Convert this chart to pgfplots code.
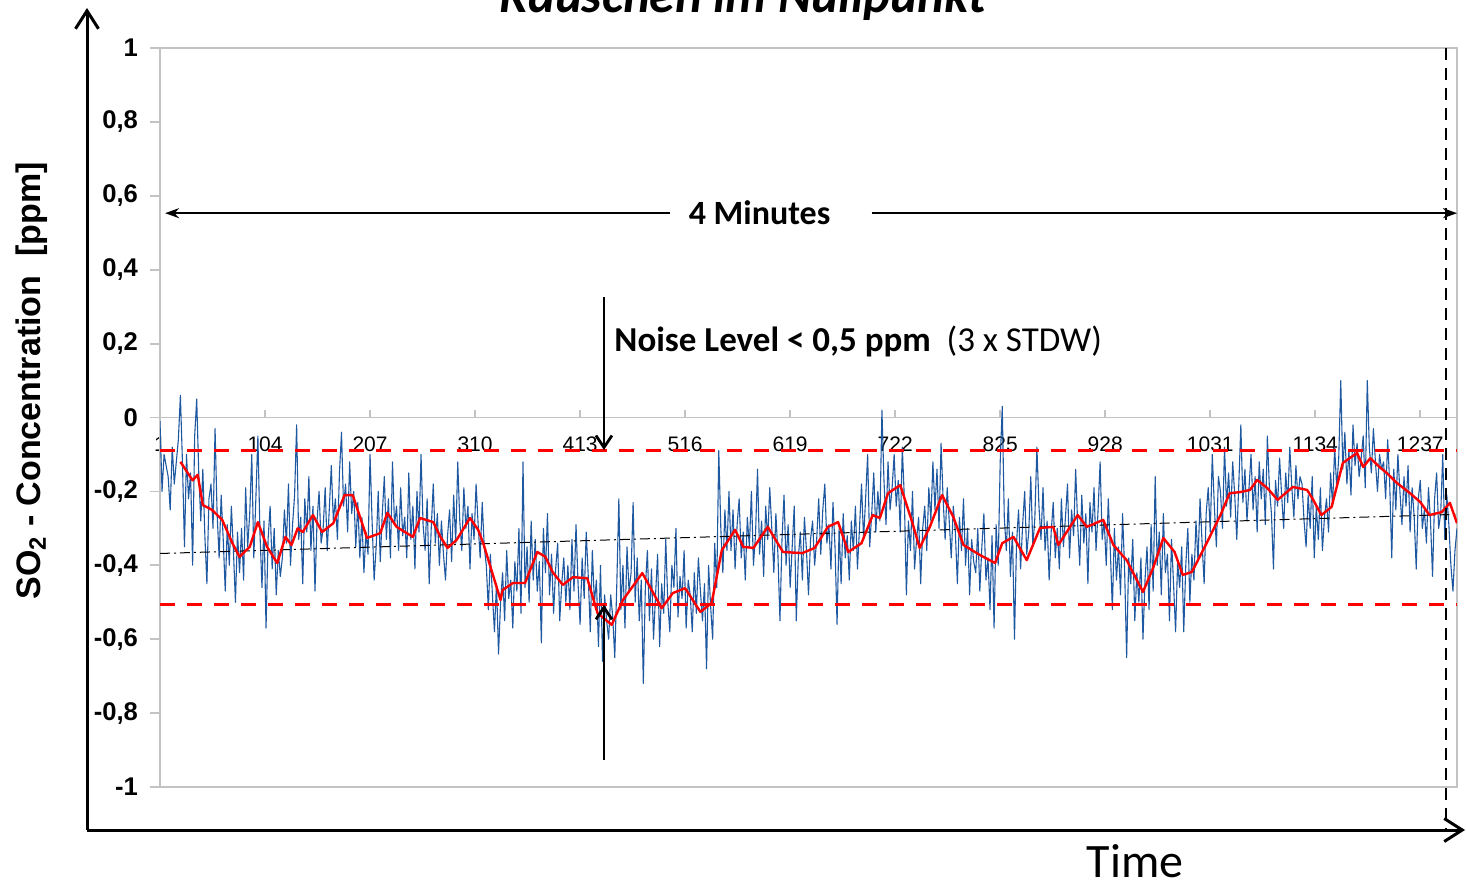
\documentclass[border=0pt]{standalone}
\usepackage{fontspec}
\setmainfont{Liberation Sans}
\newfontfamily\calibri{Carlito}
\usepackage{pgfplots}
\usepackage{pgfplotstable}
\pgfplotsset{compat=1.18}
\usetikzlibrary{arrows.meta}

\definecolor{signalblue}{RGB}{30,88,160}
\definecolor{framegray}{RGB}{195,195,195}

% raw SO2 zero signal, every second sample (x = 1, 3, 5, ..., 1273)
\pgfplotstableread[row sep=\\]{
y\\
-0.01\\ -0.20\\ -0.10\\ -0.13\\ -0.16\\ -0.25\\ -0.08\\ -0.18\\ -0.12\\ -0.06\\ 0.06\\ -0.12\\ -0.35\\ -0.10\\ -0.22\\ -0.15\\ -0.40\\ -0.05\\ 0.05\\ -0.15\\
-0.28\\ -0.14\\ -0.32\\ -0.45\\ -0.22\\ -0.18\\ -0.30\\ -0.03\\ -0.26\\ -0.38\\ -0.21\\ -0.33\\ -0.47\\ -0.29\\ -0.40\\ -0.24\\ -0.36\\ -0.50\\ -0.31\\ -0.42\\
-0.30\\ -0.44\\ -0.19\\ -0.35\\ -0.26\\ -0.10\\ -0.38\\ -0.22\\ -0.05\\ -0.31\\ -0.46\\ -0.28\\ -0.57\\ -0.33\\ -0.24\\ -0.41\\ -0.30\\ -0.48\\ -0.36\\ -0.43\\
-0.38\\ -0.25\\ -0.34\\ -0.18\\ -0.40\\ -0.29\\ -0.21\\ -0.02\\ -0.33\\ -0.27\\ -0.45\\ -0.22\\ -0.31\\ -0.16\\ -0.36\\ -0.24\\ -0.47\\ -0.28\\ -0.20\\ -0.34\\
-0.30\\ -0.19\\ -0.36\\ -0.25\\ -0.13\\ -0.28\\ -0.22\\ -0.33\\ -0.15\\ -0.04\\ -0.24\\ -0.18\\ -0.31\\ -0.12\\ -0.26\\ -0.20\\ -0.35\\ -0.23\\ -0.38\\ -0.27\\
-0.42\\ -0.31\\ -0.37\\ -0.10\\ -0.28\\ -0.44\\ -0.35\\ -0.20\\ -0.39\\ -0.26\\ -0.16\\ -0.33\\ -0.22\\ -0.38\\ -0.12\\ -0.29\\ -0.24\\ -0.36\\ -0.19\\ -0.32\\
-0.27\\ -0.38\\ -0.15\\ -0.33\\ -0.24\\ -0.41\\ -0.20\\ -0.31\\ -0.10\\ -0.29\\ -0.36\\ -0.22\\ -0.45\\ -0.30\\ -0.18\\ -0.34\\ -0.26\\ -0.40\\ -0.28\\ -0.37\\
-0.44\\ -0.32\\ -0.25\\ -0.39\\ -0.21\\ -0.34\\ -0.12\\ -0.28\\ -0.36\\ -0.19\\ -0.30\\ -0.24\\ -0.41\\ -0.26\\ -0.33\\ -0.18\\ -0.29\\ -0.38\\ -0.23\\ -0.35\\
-0.40\\ -0.52\\ -0.37\\ -0.48\\ -0.58\\ -0.45\\ -0.64\\ -0.50\\ -0.42\\ -0.55\\ -0.36\\ -0.49\\ -0.44\\ -0.57\\ -0.39\\ -0.47\\ -0.30\\ -0.53\\ -0.12\\ -0.46\\
-0.35\\ -0.50\\ -0.28\\ -0.44\\ -0.33\\ -0.47\\ -0.39\\ -0.61\\ -0.30\\ -0.42\\ -0.26\\ -0.48\\ -0.37\\ -0.53\\ -0.41\\ -0.34\\ -0.55\\ -0.45\\ -0.38\\ -0.50\\
-0.40\\ -0.52\\ -0.33\\ -0.47\\ -0.29\\ -0.45\\ -0.56\\ -0.38\\ -0.49\\ -0.31\\ -0.43\\ -0.58\\ -0.36\\ -0.50\\ -0.44\\ -0.62\\ -0.40\\ -0.66\\ -0.48\\ -0.55\\
-0.60\\ -0.48\\ -0.54\\ -0.65\\ -0.45\\ -0.22\\ -0.52\\ -0.40\\ -0.57\\ -0.35\\ -0.47\\ -0.42\\ -0.23\\ -0.50\\ -0.38\\ -0.55\\ -0.44\\ -0.72\\ -0.46\\ -0.36\\
-0.55\\ -0.41\\ -0.60\\ -0.48\\ -0.37\\ -0.62\\ -0.45\\ -0.53\\ -0.33\\ -0.50\\ -0.58\\ -0.40\\ -0.46\\ -0.30\\ -0.54\\ -0.43\\ -0.49\\ -0.36\\ -0.57\\ -0.44\\
-0.48\\ -0.58\\ -0.42\\ -0.53\\ -0.38\\ -0.47\\ -0.55\\ -0.45\\ -0.68\\ -0.40\\ -0.51\\ -0.60\\ -0.34\\ -0.46\\ -0.09\\ -0.30\\ -0.42\\ -0.25\\ -0.36\\ -0.20\\
-0.36\\ -0.25\\ -0.41\\ -0.29\\ -0.22\\ -0.38\\ -0.31\\ -0.44\\ -0.27\\ -0.35\\ -0.20\\ -0.40\\ -0.32\\ -0.14\\ -0.37\\ -0.28\\ -0.43\\ -0.24\\ -0.33\\ -0.19\\
-0.30\\ -0.42\\ -0.26\\ -0.37\\ -0.55\\ -0.33\\ -0.21\\ -0.40\\ -0.29\\ -0.46\\ -0.35\\ -0.24\\ -0.55\\ -0.38\\ -0.31\\ -0.44\\ -0.27\\ -0.36\\ -0.48\\ -0.33\\
-0.28\\ -0.40\\ -0.33\\ -0.22\\ -0.37\\ -0.25\\ -0.18\\ -0.34\\ -0.29\\ -0.41\\ -0.23\\ -0.35\\ -0.56\\ -0.30\\ -0.45\\ -0.26\\ -0.38\\ -0.32\\ -0.44\\ -0.28\\
-0.36\\ -0.24\\ -0.41\\ -0.30\\ -0.18\\ -0.33\\ -0.22\\ -0.10\\ -0.35\\ -0.26\\ -0.15\\ -0.31\\ -0.20\\ -0.28\\ 0.02\\ -0.17\\ -0.29\\ -0.12\\ -0.25\\ -0.19\\
-0.10\\ -0.24\\ -0.17\\ -0.31\\ -0.08\\ -0.22\\ -0.48\\ -0.28\\ -0.36\\ -0.20\\ -0.41\\ -0.33\\ -0.27\\ -0.45\\ -0.30\\ -0.24\\ -0.36\\ -0.19\\ -0.28\\ -0.12\\
-0.25\\ -0.14\\ -0.30\\ -0.07\\ -0.22\\ -0.33\\ -0.19\\ -0.28\\ -0.38\\ -0.24\\ -0.31\\ -0.45\\ -0.27\\ -0.36\\ -0.22\\ -0.40\\ -0.30\\ -0.48\\ -0.33\\ -0.39\\
-0.42\\ -0.30\\ -0.47\\ -0.35\\ -0.26\\ -0.44\\ -0.38\\ -0.52\\ -0.32\\ -0.57\\ -0.29\\ -0.40\\ -0.12\\ 0.03\\ -0.27\\ -0.36\\ -0.22\\ -0.43\\ -0.31\\ -0.60\\
-0.34\\ -0.25\\ -0.41\\ -0.29\\ -0.20\\ -0.37\\ -0.31\\ -0.16\\ -0.35\\ -0.27\\ -0.08\\ -0.24\\ -0.33\\ -0.19\\ -0.36\\ -0.28\\ -0.44\\ -0.31\\ -0.23\\ -0.38\\
-0.30\\ -0.41\\ -0.22\\ -0.35\\ -0.27\\ -0.18\\ -0.38\\ -0.25\\ -0.32\\ -0.14\\ -0.29\\ -0.40\\ -0.21\\ -0.34\\ -0.26\\ -0.45\\ -0.23\\ -0.31\\ -0.19\\ -0.36\\
-0.25\\ -0.12\\ -0.33\\ -0.28\\ -0.40\\ -0.22\\ -0.36\\ -0.52\\ -0.30\\ -0.44\\ -0.35\\ -0.48\\ -0.26\\ -0.41\\ -0.65\\ -0.38\\ -0.45\\ -0.33\\ -0.55\\ -0.42\\
-0.50\\ -0.38\\ -0.60\\ -0.44\\ -0.35\\ -0.52\\ -0.29\\ -0.47\\ -0.16\\ -0.40\\ -0.31\\ -0.48\\ -0.26\\ -0.42\\ -0.37\\ -0.55\\ -0.33\\ -0.45\\ -0.58\\ -0.39\\
-0.46\\ -0.35\\ -0.58\\ -0.40\\ -0.30\\ -0.50\\ -0.37\\ -0.44\\ -0.28\\ -0.39\\ -0.22\\ -0.34\\ -0.45\\ -0.26\\ -0.19\\ -0.31\\ -0.10\\ -0.24\\ -0.35\\ -0.16\\
-0.20\\ -0.30\\ -0.08\\ -0.24\\ -0.15\\ -0.27\\ -0.12\\ -0.21\\ -0.33\\ -0.18\\ -0.02\\ -0.23\\ -0.14\\ -0.28\\ -0.19\\ -0.10\\ -0.25\\ -0.16\\ -0.31\\ -0.12\\
-0.22\\ -0.14\\ -0.29\\ -0.05\\ -0.19\\ -0.26\\ -0.41\\ -0.17\\ -0.24\\ -0.11\\ -0.21\\ -0.30\\ -0.15\\ -0.23\\ -0.08\\ -0.19\\ -0.27\\ -0.13\\ -0.22\\ -0.16\\
-0.18\\ -0.28\\ -0.35\\ -0.21\\ -0.30\\ -0.16\\ -0.38\\ -0.24\\ -0.33\\ -0.19\\ -0.36\\ -0.27\\ -0.22\\ -0.31\\ -0.15\\ -0.24\\ -0.08\\ -0.19\\ -0.11\\ 0.10\\
-0.14\\ -0.04\\ -0.18\\ -0.09\\ -0.21\\ -0.02\\ -0.13\\ -0.07\\ -0.16\\ -0.11\\ -0.05\\ -0.19\\ 0.10\\ -0.08\\ -0.15\\ -0.03\\ -0.12\\ -0.20\\ -0.10\\ -0.14\\
-0.12\\ -0.22\\ -0.06\\ -0.18\\ -0.38\\ -0.14\\ -0.25\\ -0.10\\ -0.20\\ -0.29\\ -0.16\\ -0.24\\ -0.13\\ -0.31\\ -0.19\\ -0.27\\ -0.41\\ -0.22\\ -0.17\\ -0.30\\
-0.25\\ -0.34\\ -0.19\\ -0.28\\ -0.43\\ -0.22\\ -0.15\\ -0.30\\ -0.26\\ -0.10\\ -0.33\\ -0.21\\ -0.29\\ -0.40\\ -0.47\\ -0.36\\ -0.30\\
}\noisetable

\begin{document}
\begin{tikzpicture}
\useasboundingbox (0,0) rectangle (733pt,445.5pt);

% zero line with the sample-number ticks
\begin{axis}[
  at={(80pt,52pt)}, anchor=south west,
  scale only axis, width=648.5pt, height=369.5pt,
  xmin=1, xmax=1273, ymin=-1, ymax=1,
  axis x line=middle, axis y line=none,
  x axis line style={-, draw=framegray, line width=0.9pt},
  xtick={1,104,207,310,413,516,619,722,825,928,1031,1134,1237},
  xticklabels={1,104,207,310,413,516,619,722,825,928,1031,1134,1237},
  xtick align=inside,
  major tick length=3.5pt,
  xtick style={draw=framegray, line width=0.9pt},
  xticklabel style={font=\fontsize{10.5}{12}\selectfont, anchor=north, yshift=-6pt},
  ytick=\empty,
]
\end{axis}

% plot area with the signal
\begin{axis}[
  at={(80pt,52pt)}, anchor=south west,
  scale only axis, width=648.5pt, height=369.5pt,
  xmin=1, xmax=1273, ymin=-1, ymax=1,
  axis line style={draw=framegray, line width=0.9pt},
  xtick=\empty,
  ytick={-1,-0.8,-0.6,-0.4,-0.2,0,0.2,0.4,0.6,0.8,1},
  yticklabels={{-1},{-0,8},{-0,6},{-0,4},{-0,2},{0},{0,2},{0,4},{0,6},{0,8},{1}},
  ytick pos=left, tick align=outside, major tick length=5pt,
  ytick style={draw=framegray, line width=0.9pt},
  yticklabel style={font=\bfseries\fontsize{12.8}{14}\selectfont, xshift=-2.5pt},
  clip mode=individual,
]
% raw signal
\addplot[signalblue, line width=0.55pt, line join=round]
  table[x expr=2*\coordindex+1, y=y] {\noisetable};

% linear trend
\addplot[black, line width=0.5pt, dash pattern=on 5pt off 2pt on 1pt off 2pt]
  coordinates {(1,-0.368) (1273,-0.262)};

% moving average
\addplot[red, line width=1.2pt, line join=round] coordinates {
(21,-0.12)(33,-0.17)(38,-0.155)(43,-0.237)(52,-0.25)(62,-0.277)(72,-0.34)(79,-0.377)
(89,-0.35)(97,-0.283)(106,-0.35)(116,-0.394)(124,-0.323)(130,-0.345)(136,-0.30)(141,-0.31)
(151,-0.264)(160,-0.31)(171,-0.286)(182,-0.21)(190,-0.21)(204,-0.326)(217,-0.313)(224,-0.258)
(233,-0.296)(249,-0.323)(256,-0.272)(269,-0.283)(276,-0.323)(283,-0.353)(292,-0.331)(305,-0.272)
(313,-0.304)(318,-0.34)(335,-0.494)(337,-0.467)(347,-0.448)(359,-0.448)(371,-0.364)(379,-0.377)
(386,-0.418)(396,-0.453)(406,-0.432)(420,-0.435)(430,-0.529)(444,-0.561)(455,-0.494)(474,-0.421)
(493,-0.516)(504,-0.475)(516,-0.462)(531,-0.526)(542,-0.502)(552,-0.359)(565,-0.304)(573,-0.35)
(583,-0.353)(597,-0.296)(612,-0.364)(631,-0.367)(643,-0.353)(656,-0.296)(666,-0.283)(676,-0.364)
(689,-0.34)(700,-0.264)(707,-0.272)(715,-0.205)(727,-0.183)(739,-0.286)(746,-0.353)(756,-0.296)
(768,-0.21)(779,-0.269)(789,-0.345)(805,-0.372)(820,-0.394)(827,-0.34)(838,-0.323)(851,-0.386)
(864,-0.299)(877,-0.296)(882,-0.345)(901,-0.264)(910,-0.296)(926,-0.277)(936,-0.345)(949,-0.386)
(965,-0.472)(975,-0.407)(985,-0.326)(996,-0.364)(1004,-0.426)(1013,-0.418)(1028,-0.337)(1041,-0.264)
(1050,-0.205)(1060,-0.202)(1070,-0.196)(1077,-0.169)(1087,-0.191)(1097,-0.223)(1112,-0.188)(1126,-0.196)
(1132,-0.223)(1140,-0.264)(1150,-0.242)(1161,-0.123)(1175,-0.096)(1181,-0.134)(1188,-0.11)(1197,-0.134)
(1204,-0.15)(1214,-0.177)(1227,-0.205)(1237,-0.229)(1246,-0.264)(1258,-0.256)(1266,-0.231)(1273,-0.286)
};

% noise band limits
\addplot[red, line width=1.5pt, dash pattern=on 7.5pt off 6pt]
  coordinates {(1,-0.09) (1273,-0.09)};
\addplot[red, line width=1.5pt, dash pattern=on 7.5pt off 6pt]
  coordinates {(1,-0.505) (1273,-0.505)};

% end of the 4 minute window
\draw[black, line width=1pt, dash pattern=on 6pt off 4pt]
  (axis cs:1262,1) -- (axis cs:1262,-1.116);

% 4 minutes span
\draw[black, line width=1pt, -{Stealth[length=7pt,width=5pt]}]
  (axis cs:501,0.553) -- (axis cs:6,0.553);
\draw[black, line width=1pt, -{Stealth[length=7pt,width=5pt]}]
  (axis cs:699,0.553) -- (axis cs:1273,0.553);
\node[inner sep=0pt, font=\calibri\bfseries\fontsize{17}{20}\selectfont]
  at (axis cs:589,0.553) {4 Minutes};

% noise level arrows
\draw[black, line width=1.4pt, -{Straight Barb[length=6pt,width=8pt]}]
  (axis cs:436.4,0.326) -- (axis cs:436.4,-0.088);
\draw[black, line width=1.4pt, -{Straight Barb[length=6pt,width=8pt]}]
  (axis cs:436.4,-0.927) -- (axis cs:436.4,-0.507);
\node[anchor=west, inner sep=0pt, font=\calibri\fontsize{17.5}{20}\selectfont]
  at (axis cs:446.3,0.206) {\textbf{Noise Level < 0,5 ppm}\ \ (3 x STDW)};
\end{axis}

% outer frame: axes arrows, labels and heading
\begin{scope}[x=0.5pt, y=-0.5pt, yshift=445.5pt]
\draw[black, line width=1.5pt, -{Straight Barb[length=9pt,width=11.5pt]}]
  (87,830) -- (87,8);
\draw[black, line width=1.5pt, -{Straight Barb[length=9pt,width=11.5pt]}]
  (87,830) -- (1465,830);
\node[anchor=base, inner sep=0pt, font=\calibri\fontsize{24}{28}\selectfont]
  at (1135,877) {Time};
\node[rotate=90, inner sep=0pt, font=\bfseries\fontsize{17}{20}\selectfont]
  at (32,381) {SO\textsubscript{2} - Concentration\ \ [ppm]};
\node[anchor=base, inner sep=0pt, font=\calibri\bfseries\itshape\fontsize{25.5}{30}\selectfont]
  at (743,13) {Rauschen im Nullpunkt};
\end{scope}
\end{tikzpicture}
\end{document}
